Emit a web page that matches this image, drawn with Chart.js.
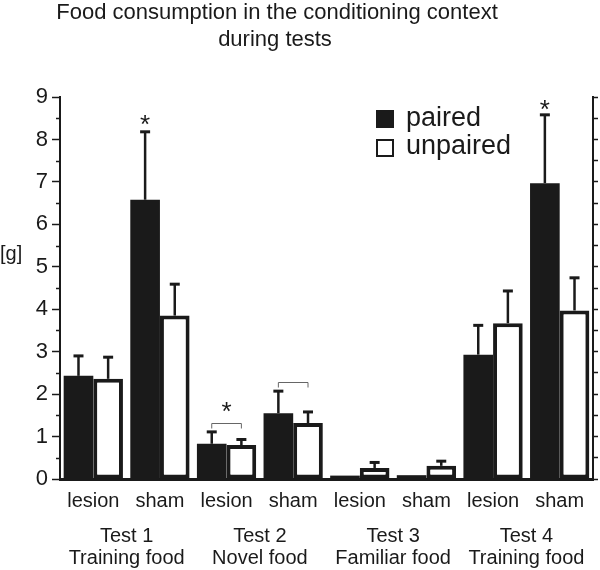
<!DOCTYPE html>
<html>
<head>
<meta charset="utf-8">
<script src="https://cdn.jsdelivr.net/npm/chart.js@4.4.0/dist/chart.umd.min.js"></script>
<style>
  body { margin: 0; background: #fff; }
</style>
</head>
<body>
<canvas id="myChart" width="600" height="570"></canvas>
<script>
// data
var groups = ['lesion', 'sham', 'lesion', 'sham', 'lesion', 'sham', 'lesion', 'sham'];
var tests = [['Test 1', 'Training food'], ['Test 2', 'Novel food'], ['Test 3', 'Familiar food'], ['Test 4', 'Training food']];
var paired = [2.43, 6.58, 0.83, 1.55, 0.08, 0.09, 2.93, 6.97];
var pairedErr = [2.9, 8.18, 1.11, 2.07, null, null, 3.62, 8.58];
var unpaired = [2.36, 3.85, 0.8, 1.32, 0.26, 0.31, 3.67, 3.97];
var unpairedErr = [2.87, 4.59, 0.93, 1.58, 0.39, 0.42, 4.43, 4.74];
// asterisks: [category, dataset (-1 = between the pair), value]
var stars = [[1, 0, 8.5], [2, -1, 1.75], [7, 0, 8.86]];
// brackets between paired and unpaired: [category, value]
var brackets = [[2, 1.32], [3, 2.29]];

var FONT = '"Liberation Sans", Arial, Helvetica, sans-serif';
var INK = '#1a1a1a';
Chart.defaults.font.family = FONT;
Chart.defaults.color = INK;

var extras = {
  id: 'extras',
  afterDatasetsDraw: function (chart) {
    var ctx = chart.ctx;
    var y = chart.scales.y;
    var errs = [pairedErr, unpairedErr];
    ctx.save();
    ctx.strokeStyle = INK;
    // error bars, upward only
    errs.forEach(function (err, d) {
      var meta = chart.getDatasetMeta(d);
      err.forEach(function (v, i) {
        if (v == null) return;
        var bar = meta.data[i];
        var top = y.getPixelForValue(v);
        ctx.lineWidth = 2.5;
        ctx.beginPath();
        ctx.moveTo(bar.x, bar.y);
        ctx.lineTo(bar.x, top);
        ctx.stroke();
        ctx.lineWidth = 3;
        ctx.beginPath();
        ctx.moveTo(bar.x - 5, top);
        ctx.lineTo(bar.x + 5, top);
        ctx.stroke();
      });
    });
    // brackets
    ctx.strokeStyle = '#666';
    ctx.lineWidth = 1;
    brackets.forEach(function (b) {
      var x1 = chart.getDatasetMeta(0).data[b[0]].x;
      var x2 = chart.getDatasetMeta(1).data[b[0]].x;
      var py = Math.round(y.getPixelForValue(b[1])) + 0.5;
      ctx.beginPath();
      ctx.moveTo(x1, py + 5);
      ctx.lineTo(x1, py);
      ctx.lineTo(x2, py);
      ctx.lineTo(x2, py + 5);
      ctx.stroke();
    });
    // asterisks
    ctx.fillStyle = INK;
    ctx.font = '26px ' + FONT;
    ctx.textAlign = 'center';
    ctx.textBaseline = 'alphabetic';
    stars.forEach(function (s) {
      var px;
      if (s[1] < 0) {
        px = (chart.getDatasetMeta(0).data[s[0]].x + chart.getDatasetMeta(1).data[s[0]].x) / 2;
      } else {
        px = chart.getDatasetMeta(s[1]).data[s[0]].x;
      }
      ctx.fillText('*', px, y.getPixelForValue(s[2]) + 15);
    });
    ctx.restore();
  },
  afterDraw: function (chart) {
    var ctx = chart.ctx;
    var x = chart.scales.x;
    var y = chart.scales.y;
    var area = chart.chartArea;
    ctx.save();
    ctx.fillStyle = INK;
    ctx.strokeStyle = INK;

    // minor ticks on the left axis
    ctx.lineWidth = 1.5;
    for (var v = 0.5; v < 9; v += 1) {
      var py = Math.round(y.getPixelForValue(v)) + 0.5;
      ctx.beginPath();
      ctx.moveTo(area.left - 4, py);
      ctx.lineTo(area.left, py);
      ctx.stroke();
    }

    // title
    ctx.font = '22px ' + FONT;
    ctx.textAlign = 'center';
    ctx.fillText('Food consumption in the conditioning context', 277, 19);
    ctx.fillText('during tests', 275, 46);

    // y unit
    ctx.font = '20px ' + FONT;
    ctx.textAlign = 'left';
    ctx.fillText('[g]', 0, 260);

    // test group labels
    ctx.textAlign = 'center';
    tests.forEach(function (t, i) {
      var cx = (x.getPixelForValue(i * 2) + x.getPixelForValue(i * 2 + 1)) / 2;
      ctx.fillText(t[0], cx, 542);
      ctx.fillText(t[1], cx, 564);
    });

    // legend
    ctx.textAlign = 'left';
    ctx.font = '27px ' + FONT;
    ctx.fillRect(376, 110, 18, 18);
    ctx.fillText(chart.data.datasets[0].label, 406, 126);
    ctx.lineWidth = 2;
    ctx.strokeRect(377, 140, 16, 16);
    ctx.fillText(chart.data.datasets[1].label, 406, 154);
    ctx.restore();
  }
};

var ctx = document.getElementById('myChart').getContext('2d');
var myChart = new Chart(ctx, {
  type: 'bar',
  data: {
    labels: groups,
    datasets: [{
      label: 'paired',
      data: paired,
      backgroundColor: INK,
      borderWidth: 0
    }, {
      label: 'unpaired',
      data: unpaired,
      backgroundColor: '#fff',
      borderColor: INK,
      borderWidth: 4,
      borderSkipped: false
    }]
  },
  options: {
    responsive: false,
    animation: false,
    layout: { padding: { top: 97, left: 0, right: 0, bottom: 0 } },
    datasets: {
      bar: { categoryPercentage: 0.89, barPercentage: 1 }
    },
    plugins: {
      legend: { display: false },
      tooltip: { enabled: false }
    },
    scales: {
      x: {
        afterFit: function (s) { s.height = 91; },
        grid: { display: true, drawOnChartArea: false, drawTicks: false },
        border: { display: true, color: INK, width: 3 },
        ticks: { font: { size: 20 }, color: INK, padding: 10, maxRotation: 0 }
      },
      y: {
        min: 0,
        max: 9,
        afterFit: function (s) { s.width = 60; },
        grid: { drawOnChartArea: false, drawTicks: true, tickLength: 8, tickWidth: 1.5, tickColor: INK },
        border: { display: true, color: INK, width: 2 },
        ticks: { stepSize: 1, font: { size: 22 }, color: INK, padding: 4 }
      },
      y2: {
        position: 'right',
        min: 0,
        max: 9,
        afterFit: function (s) { s.width = 7; },
        grid: { drawOnChartArea: false, drawTicks: true, tickLength: 5, tickWidth: 1.5, tickColor: INK },
        border: { display: true, color: INK, width: 2 },
        ticks: { stepSize: 0.5, display: false }
      }
    }
  },
  plugins: [extras]
});
</script>
</body>
</html>
